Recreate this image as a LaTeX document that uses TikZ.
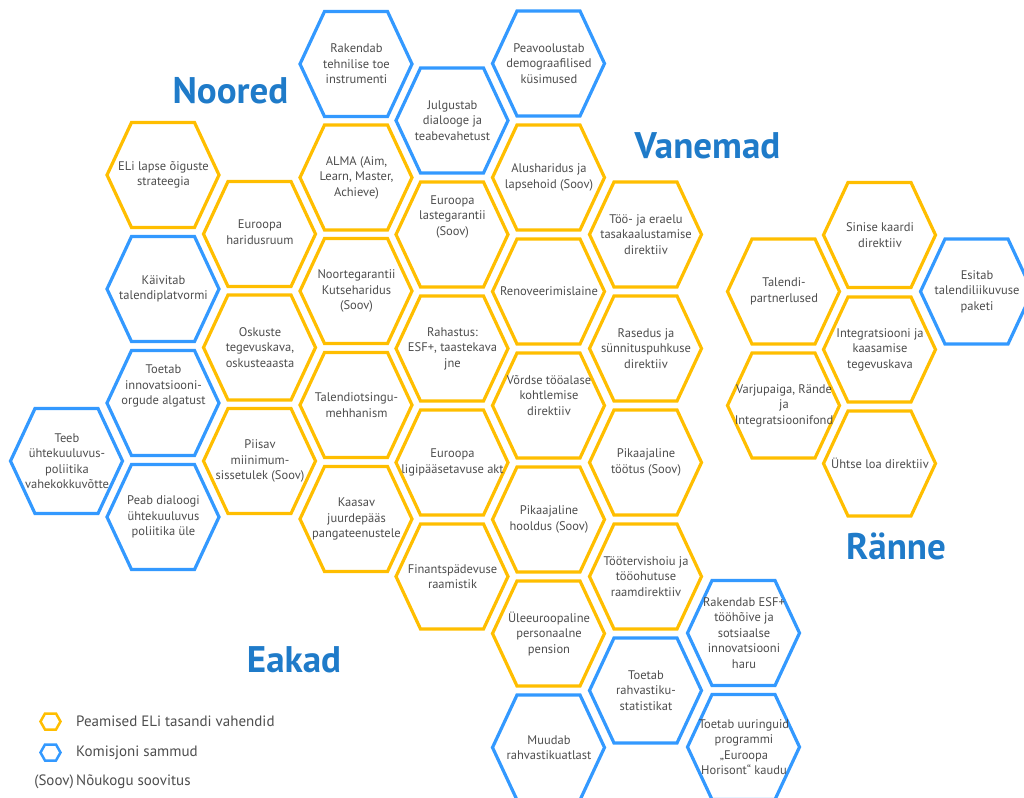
\documentclass[tikz,border=0pt]{standalone}
\usepackage{fontspec}
\setmainfont{PT Sans}
\definecolor{hy}{HTML}{FFBE00}
\definecolor{hb}{HTML}{3399FF}
\definecolor{tb}{HTML}{1F7BC9}
\definecolor{tg}{HTML}{4D4D4D}
\tikzset{
 hexY/.style={draw=hy, line width=3.2pt},
 hexB/.style={draw=hb, line width=3.2pt},
 hextext/.style={align=center, text=tg, font=\fontsize{12.5}{15.5}\selectfont, inner sep=0pt},
 titletext/.style={text=tb, font=\fontsize{37}{40}\selectfont\bfseries, anchor=base},
 legtext/.style={text=tg, font=\fontsize{15}{18}\selectfont, anchor=west, inner sep=0pt},
 leghexY/.style={draw=hy, line width=2.5pt},
 leghexB/.style={draw=hb, line width=2.5pt},
}
\newcommand\hx[6][]{%
 \draw[#5] (#3,#4) ++(-56.5,0) -- ++(24.5,-52.5) -- ++(63,0) -- ++(24.5,52.5) -- ++(-24.5,52.5) -- ++(-63,0) -- cycle;
 \node[hextext,#1] (#2) at (#3,#4) {#6};}
\begin{document}
\begin{tikzpicture}[x=1pt,y=-1pt]
\useasboundingbox (0,0) rectangle (1024,797);
% titles
\node[titletext] (noored) at (230.5,104) {Noored};
\node[titletext] (vanemad) at (707.5,158) {Vanemad};
\node[titletext] (ranne) at (896,559) {Ränne};
\node[titletext] (eakad) at (294,672) {Eakad};
% column A
\hx{a1}{67}{461}{hexB}{Teeb\\ühtekuuluvus-\\poliitika\\vahekokkuvõtte}
% column B
\hx{b1}{163.5}{175}{hexY}{ELi lapse õiguste\\strateegia}
\hx{b2}{163.5}{289}{hexB}{Käivitab\\talendiplatvormi}
\hx[yshift=17pt]{b3}{163.5}{403}{hexB}{Toetab\\innovatsiooni-\\orgude algatust}
\hx{b4}{163.5}{517}{hexB}{Peab dialoogi\\ühtekuuluvus\\poliitika üle}
% column C
\hx[yshift=2pt]{c1}{260}{234}{hexY}{Euroopa\\haridusruum}
\hx{c2}{260}{347.5}{hexY}{Oskuste\\tegevuskava,\\oskusteaasta}
\hx{c3}{260}{461}{hexY}{Piisav\\miinimum-\\sissetulek (Soov)}
% column D
\hx{d1}{356.5}{64}{hexB}{Rakendab\\tehnilise toe\\instrumenti}
\hx{d2}{356.5}{177.5}{hexY}{ALMA (Aim,\\Learn, Master,\\Achieve)}
\hx{d3}{356.5}{291}{hexY}{Noortegarantii\\Kutseharidus\\(Soov)}
\hx{d4}{356.5}{405}{hexY}{Talendiotsingu-\\mehhanism}
\hx{d5}{356.5}{519}{hexY}{Kaasav\\juurdepääs\\pangateenustele}
% column E
\hx{e1}{452.5}{120.5}{hexB}{Julgustab\\dialooge ja\\teabevahetust}
\hx[yshift=18pt]{e2}{452.5}{234.5}{hexY}{Euroopa\\lastegarantii\\(Soov)}
\hx{e3}{452.5}{348.5}{hexY}{Rahastus:\\ESF+, taastekava\\jne}
\hx{e4}{452.5}{462.5}{hexY}{Euroopa\\ligipääsetavuse akt}
\hx{e5}{452.5}{576.5}{hexY}{Finantspädevuse\\raamistik}
% column F
\hx{f1}{549}{63.5}{hexB}{Peavoolustab\\demograafilised\\küsimused}
\hx{f2}{549}{177.5}{hexY}{Alusharidus ja\\lapsehoid (Soov)}
\hx{f3}{549}{291.5}{hexY}{Renoveerimislaine}
\hx[yshift=10pt]{f4}{549}{405.5}{hexY}{Võrdse tööalase\\kohtlemise\\direktiiv}
\hx{f5}{549}{519.5}{hexY}{Pikaajaline\\hooldus (Soov)}
\hx{f6}{549}{633.5}{hexY}{Üleeuroopaline\\personaalne\\pension}
\hx{f7}{549}{747.5}{hexB}{Muudab\\rahvastikuatlast}
% column G
\hx{g1}{646}{234.5}{hexY}{Töö- ja eraelu\\tasakaalustamise\\direktiiv}
\hx{g2}{646}{348.5}{hexY}{Rasedus ja\\sünnituspuhkuse\\direktiiv}
\hx{g3}{646}{462.5}{hexY}{Pikaajaline\\töötus (Soov)}
\hx{g4}{646}{576.5}{hexY}{Töötervishoiu ja\\tööohutuse\\raamdirektiiv}
\hx{g5}{646}{690.5}{hexB}{Toetab\\rahvastiku-\\statistikat}
% column H
\hx{h1}{744}{633}{hexB}{Rakendab ESF+\\tööhõive ja\\sotsiaalse\\innovatsiooni\\haru}
\hx{h2}{744}{747}{hexB}{Toetab uuringuid\\programmi\\„Euroopa\\Horisont“ kaudu}
% migration group
\hx{r1}{784}{291.5}{hexY}{Talendi-\\partnerlused}
\hx{r2}{784}{405.5}{hexY}{Varjupaiga, Rände\\ja\\Integratsioonifond}
\hx{r3}{880}{235}{hexY}{Sinise kaardi\\direktiiv}
\hx{r4}{880}{349.5}{hexY}{Integratsiooni ja\\kaasamise\\tegevuskava}
\hx{r5}{880}{463.5}{hexY}{Ühtse loa direktiiv}
\hx{r6}{977}{291.5}{hexB}{Esitab\\talendiliikuvuse\\paketi}
% legend
\coordinate (lgY) at (50.5,721.5);
\coordinate (lgB) at (50.5,752.5);
\draw[leghexY] (lgY) ++(-10,0) -- ++(4.5,-8) -- ++(11,0) -- ++(4.5,8) -- ++(-4.5,8) -- ++(-11,0) -- cycle;
\draw[leghexB] (lgB) ++(-10,0) -- ++(4.5,-8) -- ++(11,0) -- ++(4.5,8) -- ++(-4.5,8) -- ++(-11,0) -- cycle;
\node[legtext] (lt1) at (76,721.5) {Peamised ELi tasandi vahendid};
\node[legtext] (lt2) at (76,752.5) {Komisjoni sammud};
\node[legtext, anchor=east] (lt3a) at (74,782) {(Soov)};
\node[legtext] (lt3) at (76,782) {Nõukogu soovitus};
\end{tikzpicture}
\end{document}
